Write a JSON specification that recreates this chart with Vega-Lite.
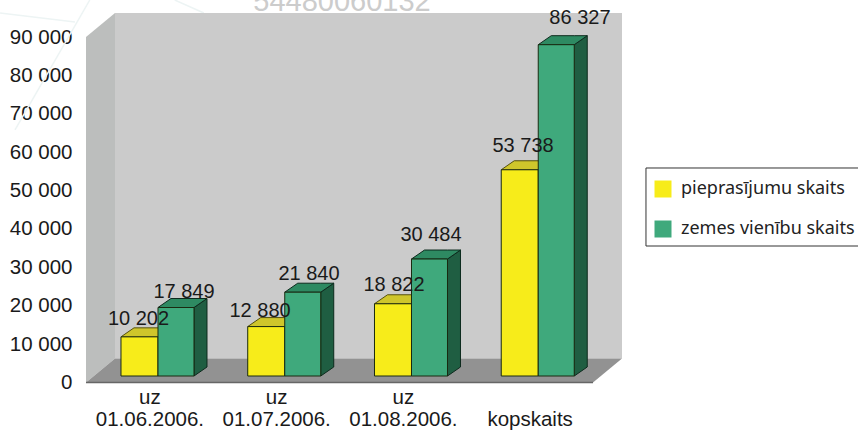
{
"$schema":"https://vega.github.io/schema/vega-lite/v6.json",
"width":772,"height":382.5,
"autosize":{"type":"none"},
"padding":{"left":86,"top":0,"right":0,"bottom":47.5},
"background":"white",
"view":{"stroke":null},
"config":{"font":"Liberation Sans"},
"datasets":{
"bars":[
{"category":"uz 01.06.2006.","series":"pieprasījumu skaits","value":10202},
{"category":"uz 01.06.2006.","series":"zemes vienību skaits","value":17849},
{"category":"uz 01.07.2006.","series":"pieprasījumu skaits","value":12880},
{"category":"uz 01.07.2006.","series":"zemes vienību skaits","value":21840},
{"category":"uz 01.08.2006.","series":"pieprasījumu skaits","value":18822},
{"category":"uz 01.08.2006.","series":"zemes vienību skaits","value":30484},
{"category":"kopskaits","series":"pieprasījumu skaits","value":53738},
{"category":"kopskaits","series":"zemes vienību skaits","value":86327}
],
"stamp":[{"text":"54480060132"}],
"one":[{"t":0}],
"wash":[{"t":0},{"t":1},{"t":2}]
},
"encoding":{
"x":{"field":"x","type":"quantitative","title":null,"scale":{"domain":[0,6.0907],"nice":false,"zero":false},
"axis":{"values":[0.5,1.5,2.5,3.5],"grid":false,"domain":false,"ticks":false,"labelFontSize":20.5,"labelColor":"#1a1a1a","labelPadding":5,"labelLineHeight":22,"labelFlush":false,"labelOverlap":false,
"labelExpr":"datum.value==0.5?['uz','01.06.2006.']:datum.value==1.5?['uz','01.07.2006.']:datum.value==2.5?['uz','01.08.2006.']:['','kopskaits']"}},
"y":{"field":"y","type":"quantitative","title":null,"scale":{"domain":[0,99661],"nice":false,"zero":false},
"axis":{"values":[0,10000,20000,30000,40000,50000,60000,70000,80000,90000],"grid":false,"domain":false,"ticks":false,"labelFontSize":20.5,"labelColor":"#1a1a1a","labelPadding":14,"labelExpr":"replace(format(datum.value,','),',',' ')"}}
},
"layer":[
{"data":{"name":"wash"},"transform":[{"calculate":"[-0.678,0.03,0.7][datum.t]","as":"x"},{"calculate":"[-0.087,-0.56,0.93][datum.t]","as":"x2"},{"calculate":"[96274,99661,99661][datum.t]","as":"y"},{"calculate":"[93930,65790,96274][datum.t]","as":"y2"}],
"mark":{"type":"rule","color":"#edf4f4","strokeWidth":1.5},"encoding":{"x2":{"field":"x2"},"y2":{"field":"y2"}}},
{"data":{"name":"stamp"},"transform":[{"calculate":"2.02","as":"x"},{"calculate":"96795","as":"y"}],"mark":{"type":"text","fontSize":29,"fontWeight":"normal","color":"#cccccc","align":"center","baseline":"alphabetic"},"encoding":{"text":{"field":"text"}}},
{"data":{"name":"one"},"transform":[{"calculate":"0.2288","as":"x"},{"calculate":"4.2288","as":"x2"},{"calculate":"6250","as":"y"},{"calculate":"96250","as":"y2"}],"mark":{"type":"rect","fill":"#cbcbcb"},"encoding":{"x2":{"field":"x2"},"y2":{"field":"y2"}}},
{"data":{"values":[{"t":0},{"t":1}]},"transform":[{"calculate":"0.2288*datum.t","as":"x"},{"calculate":"90000+6250*datum.t","as":"y"},{"calculate":"6250*datum.t","as":"y2"}],
"mark":{"type":"area","fill":"#bcbebd"},"encoding":{"y2":{"field":"y2"}}},
{"data":{"values":[{"t":0},{"t":1},{"t":2},{"t":3}]},"transform":[{"calculate":"[0,0.2288,4,4.2288][datum.t]","as":"x"},{"calculate":"[0,6250,6250,6250][datum.t]","as":"y"},{"calculate":"[0,0,0,6250][datum.t]","as":"y2"}],
"mark":{"type":"area","fill":"#929292"},"encoding":{"y2":{"field":"y2"}}},
{"data":{"name":"one"},"transform":[{"calculate":"0","as":"x"},{"calculate":"4","as":"x2"},{"calculate":"0","as":"y"}],"mark":{"type":"rule","color":"#666666","strokeWidth":1.5},"encoding":{"x2":{"field":"x2"}}},
{"data":{"name":"one"},"transform":[{"calculate":"4.418","as":"x"},{"calculate":"6.3","as":"x2"},{"calculate":"55889","as":"y"},{"calculate":"35565","as":"y2"}],"mark":{"type":"rect","fill":"white","stroke":"#333333","strokeWidth":1},"encoding":{"x2":{"field":"x2"},"y2":{"field":"y2"}}},

{"data":{"name":"bars"},"transform":[{"filter":"datum.series=='pieprasījumu skaits'"},
{"calculate":"indexof(['uz 01.06.2006.','uz 01.07.2006.','uz 01.08.2006.','kopskaits'],datum.category)+0.276","as":"x0"},
{"calculate":"datum.x0+0.292","as":"x1"},{"calculate":"datum.value+1690","as":"T"},
{"calculate":"[0,1,2,3]","as":"t"},{"flatten":["t"]},
{"calculate":"[datum.x0,datum.x0+0.1026,datum.x1,datum.x1+0.1026][datum.t]","as":"x"},
{"calculate":"datum.T+[0,2345,2345,2345][datum.t]","as":"y"},
{"calculate":"datum.T+[0,0,0,2345][datum.t]","as":"y2"}],
"mark":{"type":"area","fill":"#cfc62b","stroke":"#55500f","strokeWidth":1},"encoding":{"y2":{"field":"y2"},"detail":{"field":"category"}}},

{"data":{"name":"bars"},"transform":[{"filter":"datum.series=='zemes vienību skaits'"},
{"calculate":"indexof(['uz 01.06.2006.','uz 01.07.2006.','uz 01.08.2006.','kopskaits'],datum.category)+0.568","as":"x0"},
{"calculate":"datum.x0+0.284","as":"x1"},{"calculate":"datum.value+1690","as":"T"},
{"calculate":"[0,1]","as":"t"},{"flatten":["t"]},
{"calculate":"datum.x1+0.1026*datum.t","as":"x"},
{"calculate":"datum.T+2345*datum.t","as":"y"},
{"calculate":"1690+2345*datum.t","as":"y2"}],
"mark":{"type":"area","fill":"#1f5e42","stroke":"#0d2a1d","strokeWidth":1},"encoding":{"y2":{"field":"y2"},"detail":{"field":"category"}}},

{"data":{"name":"bars"},"transform":[{"filter":"datum.series=='zemes vienību skaits'"},
{"calculate":"indexof(['uz 01.06.2006.','uz 01.07.2006.','uz 01.08.2006.','kopskaits'],datum.category)+0.568","as":"x0"},
{"calculate":"datum.x0+0.284","as":"x1"},{"calculate":"datum.value+1690","as":"T"},
{"calculate":"[0,1,2,3]","as":"t"},{"flatten":["t"]},
{"calculate":"[datum.x0,datum.x0+0.1026,datum.x1,datum.x1+0.1026][datum.t]","as":"x"},
{"calculate":"datum.T+[0,2345,2345,2345][datum.t]","as":"y"},
{"calculate":"datum.T+[0,0,0,2345][datum.t]","as":"y2"}],
"mark":{"type":"area","fill":"#2e8a62","stroke":"#0d2a1d","strokeWidth":1},"encoding":{"y2":{"field":"y2"},"detail":{"field":"category"}}},

{"data":{"name":"bars"},"transform":[
{"calculate":"indexof(['uz 01.06.2006.','uz 01.07.2006.','uz 01.08.2006.','kopskaits'],datum.category)+(datum.series=='pieprasījumu skaits'?0.276:0.568)","as":"x"},
{"calculate":"datum.x+(datum.series=='pieprasījumu skaits'?0.292:0.284)","as":"x2"},
{"calculate":"datum.value+1690","as":"y"},{"calculate":"1690","as":"y2"}],
"mark":{"type":"rect","stroke":"#1a2a10","strokeWidth":1},
"encoding":{"x2":{"field":"x2"},"y2":{"field":"y2"},
"color":{"field":"series","type":"nominal","scale":{"domain":["pieprasījumu skaits","zemes vienību skaits"],"range":["#f7ec1a","#3fa97c"]},
"legend":{"title":null,"orient":"none","legendX":560,"legendY":172,"padding":8,"symbolType":"square","symbolSize":289,"symbolStrokeWidth":0,"symbolOpacity":1,"rowPadding":22,"labelFont":"Noto Sans","labelFontSize":18,"labelColor":"#222222","labelOffset":9,"labelLimit":220}}}},

{"data":{"name":"bars"},"transform":[
{"calculate":"({'10202':0.414,'17849':0.773,'12880':1.373,'21840':1.759,'18822':2.43,'30484':2.722,'53738':3.448,'86327':3.897})[''+datum.value]","as":"x"},
{"calculate":"({'10202':14982,'17849':22017,'12880':17066,'21840':26707,'18822':23841,'30484':36868,'53738':60058,'86327':93408})[''+datum.value]","as":"y"},
{"calculate":"replace(format(datum.value,','),',',' ')","as":"label"}],
"mark":{"type":"text","fontSize":20,"color":"#1a1a1a","align":"center","baseline":"alphabetic"},
"encoding":{"text":{"field":"label"}}}
]
}
